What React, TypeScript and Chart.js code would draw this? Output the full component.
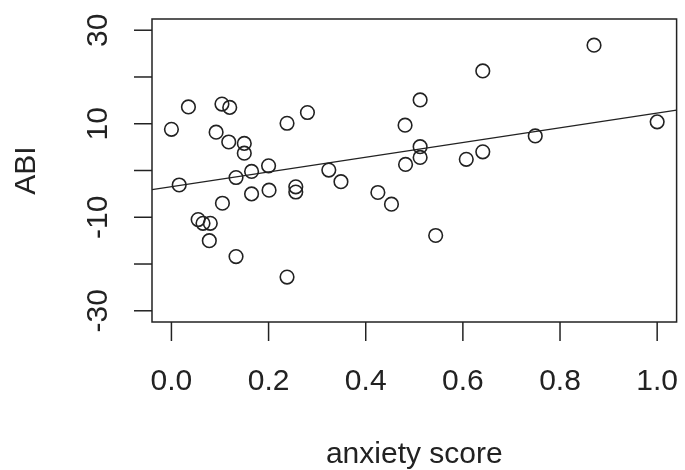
import React, { useEffect, useRef } from "react";
import { Chart, registerables } from "chart.js";

Chart.register(...registerables);

// anxiety score (x) and ABI (y)
const anxietyScore = [
  0.0, 0.035, 0.104, 0.12, 0.092, 0.118, 0.15, 0.15, 0.238, 0.28,
  0.016, 0.133, 0.165, 0.2, 0.324, 0.349, 0.165, 0.201, 0.256, 0.256,
  0.105, 0.055, 0.065, 0.08, 0.078, 0.133, 0.238, 0.425, 0.453, 0.481,
  0.482, 0.512, 0.512, 0.512, 0.544, 0.607, 0.641, 0.641, 0.749, 0.87, 1.0,
];
const abi = [
  8.8, 13.6, 14.2, 13.5, 8.2, 6.1, 5.8, 3.7, 10.1, 12.4,
  -3.1, -1.5, -0.2, 1.0, 0.1, -2.4, -5.0, -4.2, -3.5, -4.6,
  -7.0, -10.5, -11.3, -11.3, -15.0, -18.4, -22.8, -4.7, -7.2, 9.7,
  1.3, 15.1, 5.1, 2.8, -13.9, 2.4, 4.0, 21.3, 7.4, 26.8, 10.4,
];

// fitted line end points (at the plot region edges)
const fitX = [-0.04, 1.04];
const fitY = [-4.1, 12.9];

const xLimits = [-0.04, 1.04];
const yLimits = [-32.4, 32.4];
const xTicks = [0, 0.2, 0.4, 0.6, 0.8, 1.0];
const xTickLabels = ["0.0", "0.2", "0.4", "0.6", "0.8", "1.0"];
const yTicks = [-30, -20, -10, 0, 10, 20, 30];
const yTickLabels = ["-30", "", "-10", "", "10", "", "30"];
const xTitle = "anxiety score";
const yTitle = "ABI";

const FONT = '30px "Liberation Sans", Arial, Helvetica, sans-serif';
const INK = "#222222";

const rAxesPlugin = {
  id: "rAxes",
  afterDraw(chart: any) {
    const { ctx, chartArea, scales } = chart;
    const xs = scales.x;
    const ys = scales.y;
    ctx.save();
    ctx.strokeStyle = INK;
    ctx.fillStyle = INK;
    ctx.lineWidth = 1.5;
    // box
    ctx.strokeRect(chartArea.left, chartArea.top, chartArea.right - chartArea.left, chartArea.bottom - chartArea.top);
    ctx.font = FONT;
    // x ticks
    ctx.textAlign = "center";
    ctx.textBaseline = "alphabetic";
    xTicks.forEach((v, i) => {
      const px = xs.getPixelForValue(v);
      ctx.beginPath();
      ctx.moveTo(px, chartArea.bottom);
      ctx.lineTo(px, chartArea.bottom + 19);
      ctx.stroke();
      ctx.fillText(xTickLabels[i], px, 390);
    });
    // y ticks
    yTicks.forEach((v, i) => {
      const py = ys.getPixelForValue(v);
      ctx.beginPath();
      ctx.moveTo(chartArea.left, py);
      ctx.lineTo(chartArea.left - 18, py);
      ctx.stroke();
      if (yTickLabels[i]) {
        ctx.save();
        ctx.translate(106.5, py);
        ctx.rotate(-Math.PI / 2);
        ctx.textAlign = "center";
        ctx.fillText(yTickLabels[i], 0, 0);
        ctx.restore();
      }
    });
    // titles
    ctx.textAlign = "center";
    ctx.fillText(xTitle, (chartArea.left + chartArea.right) / 2, 463);
    ctx.save();
    ctx.translate(35, (chartArea.top + chartArea.bottom) / 2);
    ctx.rotate(-Math.PI / 2);
    ctx.fillText(yTitle, 0, 0);
    ctx.restore();
    ctx.restore();
  },
};

export default function App() {
  const ref = useRef<HTMLCanvasElement | null>(null);
  useEffect(() => {
    if (!ref.current) return;
    const points = anxietyScore.map((x, i) => ({ x, y: abi[i] }));
    const fit = fitX.map((x, i) => ({ x, y: fitY[i] }));
    const chart = new Chart(ref.current, {
      type: "scatter",
      data: {
        datasets: [
          {
            label: "ABI",
            data: points,
            showLine: false,
            pointStyle: "circle",
            pointRadius: 6.8,
            pointBorderWidth: 1.6,
            borderColor: INK,
            backgroundColor: "rgba(0,0,0,0)",
            pointBackgroundColor: "rgba(0,0,0,0)",
            pointBorderColor: INK,
          },
          {
            type: "line",
            label: "fit",
            data: fit,
            showLine: true,
            borderColor: INK,
            borderWidth: 1.4,
            pointRadius: 0,
            fill: false,
          } as any,
        ],
      },
      options: {
        animation: false,
        responsive: false,
        maintainAspectRatio: false,
        layout: { padding: { left: 152, top: 19, right: 3, bottom: 148 } },
        plugins: { legend: { display: false }, tooltip: { enabled: false } },
        scales: {
          x: { type: "linear", min: xLimits[0], max: xLimits[1], display: false },
          y: { type: "linear", min: yLimits[0], max: yLimits[1], display: false },
        },
      },
      plugins: [rAxesPlugin],
    });
    return () => chart.destroy();
  }, []);
  return (
    <div style={{ position: "absolute", left: 0, top: 0, width: 685, height: 470, background: "#fff" }}>
      <canvas ref={ref} width={685} height={470} style={{ display: "block", width: 685, height: 470 }} />
    </div>
  );
}
